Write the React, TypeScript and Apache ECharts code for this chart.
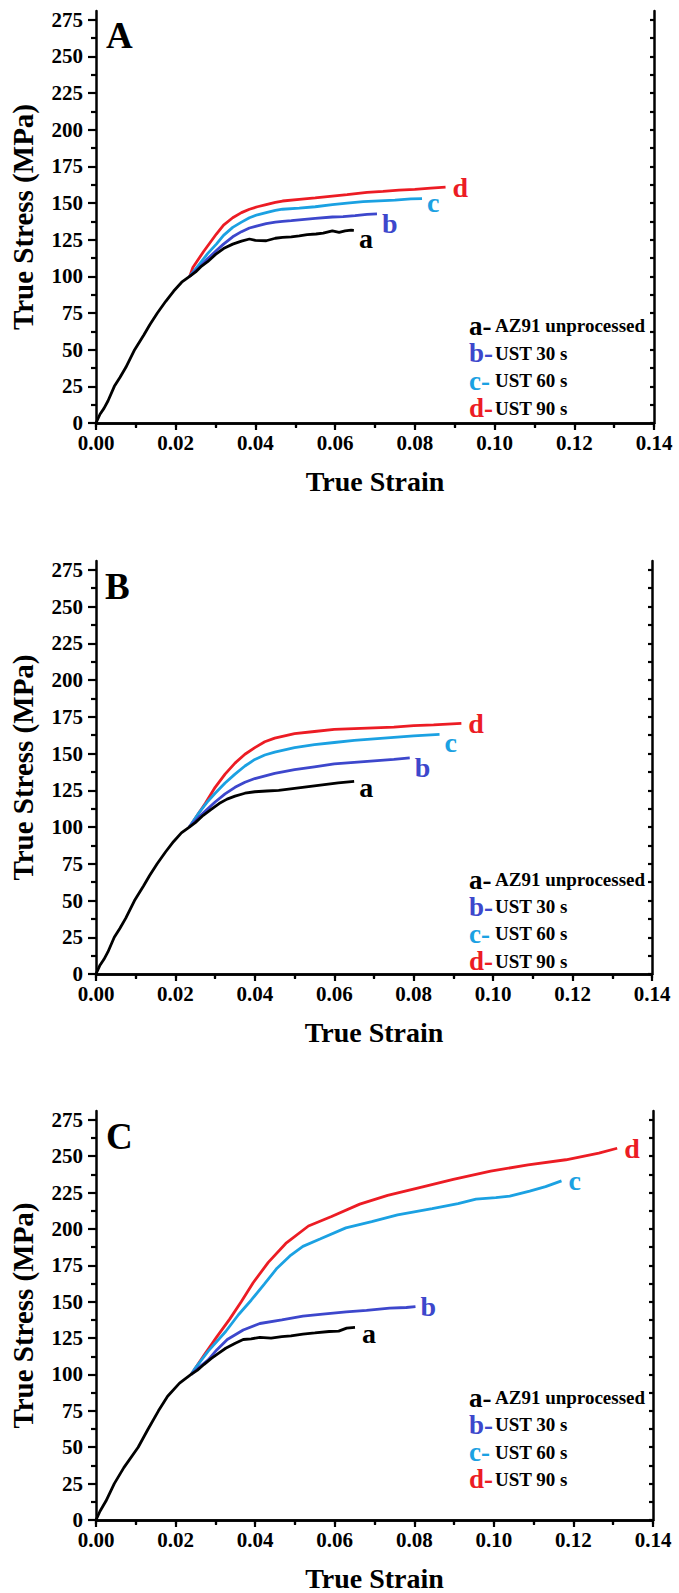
import React, { useEffect, useRef } from "react";
import * as echarts from "echarts";

const F = "'Liberation Serif', 'Times New Roman', serif";
const COLORS = ["#000000", "#3d47cc", "#1ba1e2", "#ec1c24"];
const LETTERS = ["a", "b", "c", "d"];
const NAMES = ["AZ91 unprocessed", "UST 30 s", "UST 60 s", "UST 90 s"];
const PANELS = ["A", "B", "C"];
const Y_MAJOR = [0, 25, 50, 75, 100, 125, 150, 175, 200, 225, 250, 275];
const Y_MINOR = [12.5, 37.5, 62.5, 87.5, 112.5, 137.5, 162.5, 187.5, 212.5, 237.5, 262.5];
const Y_RIGHT = [0, 12.5, 25, 37.5, 50, 62.5, 75, 87.5, 100, 112.5, 125, 137.5, 150, 162.5, 175, 187.5, 200, 212.5, 225, 237.5, 250, 262.5, 275];

// Panel A
const A_a = [[0,0],[0.001,6],[0.002,10],[0.003,15],[0.0046,25],[0.006,31],[0.0075,38],[0.0097,50],[0.012,60],[0.0135,67],[0.0154,75],[0.0175,83],[0.0195,90],[0.0215,96],[0.0235,100],[0.025,103],[0.0265,107],[0.028,110],[0.030,115],[0.032,119],[0.0343,122],[0.0365,124],[0.0385,125.5],[0.040,124.5],[0.0427,124.3],[0.045,126],[0.0468,126.6],[0.049,127],[0.051,127.7],[0.053,128.5],[0.0552,128.9],[0.057,129.5],[0.0593,131],[0.061,130],[0.0625,131],[0.064,131.5],[0.0647,131.4]];
const A_b = [[0.0235,100],[0.026,106.3],[0.028,112],[0.0302,117.6],[0.032,122],[0.0343,127],[0.0365,130.5],[0.0385,133],[0.0405,134.5],[0.0427,136],[0.045,137],[0.0468,137.5],[0.049,138],[0.051,138.5],[0.055,139.5],[0.0593,140.5],[0.062,140.8],[0.065,141.5],[0.068,142.3],[0.0705,142.7]];
const A_c = [[0.0235,100],[0.026,108.6],[0.028,115.5],[0.0302,122],[0.032,128],[0.0343,133.4],[0.0365,137],[0.0385,140],[0.0405,142],[0.0427,143.5],[0.045,145],[0.0468,145.8],[0.051,146.5],[0.055,147.5],[0.0593,149],[0.063,150],[0.067,151],[0.071,151.5],[0.075,152],[0.079,152.8],[0.0818,153]];
const A_d = [[0.0235,100],[0.0243,106],[0.027,117],[0.0302,128.9],[0.032,135],[0.0343,140],[0.0365,143.5],[0.0385,145.8],[0.0405,147.5],[0.0427,149],[0.045,150.5],[0.0468,151.4],[0.051,152.5],[0.055,153.5],[0.0593,154.8],[0.063,155.8],[0.068,157.3],[0.072,158],[0.076,158.8],[0.080,159.3],[0.084,160.2],[0.0877,160.9]];

// Panel B
const B_a = [[0,0],[0.001,6],[0.002,10],[0.003,15],[0.0046,25],[0.006,31],[0.0075,38],[0.0097,50],[0.012,60],[0.0135,67],[0.0154,75],[0.0175,83],[0.0195,90],[0.0215,96],[0.0235,100],[0.025,103],[0.027,108],[0.029,112],[0.031,116],[0.033,119],[0.035,121],[0.0375,123],[0.040,124],[0.043,124.5],[0.046,125],[0.049,126],[0.052,127],[0.055,128],[0.058,129],[0.061,130],[0.063,130.5],[0.065,131]];
const B_b = [[0.0235,100],[0.026,107],[0.028,112],[0.030,117],[0.0325,122.5],[0.035,127],[0.0375,130.5],[0.040,133],[0.045,136.5],[0.050,139],[0.055,141],[0.060,143],[0.065,144],[0.070,145],[0.075,146],[0.079,147]];
const B_c = [[0.0235,100],[0.026,110],[0.028,117],[0.030,123],[0.0325,130],[0.035,136],[0.0375,141.5],[0.040,146],[0.0425,149],[0.045,151],[0.050,154],[0.055,156],[0.060,157.5],[0.065,159],[0.070,160],[0.075,161],[0.080,162],[0.0865,163]];
const B_d = [[0.0235,100],[0.025,106],[0.0275,116],[0.030,127],[0.0325,136],[0.035,143.5],[0.0375,149.5],[0.040,154],[0.0425,158],[0.045,160.5],[0.050,163.5],[0.055,165],[0.060,166.5],[0.065,167],[0.070,167.5],[0.075,168],[0.080,169],[0.085,169.5],[0.092,170.5]];

// Panel C
const C_a = [[0,0],[0.001,6],[0.0025,13],[0.0046,25],[0.007,36],[0.0106,50],[0.013,62],[0.0157,75],[0.018,85],[0.021,94],[0.0239,100],[0.0255,103],[0.0271,106.8],[0.029,111],[0.0305,114],[0.0326,118],[0.035,121.5],[0.037,124],[0.039,124.5],[0.0412,125.5],[0.044,125],[0.0467,126],[0.049,126.5],[0.052,127.7],[0.055,128.5],[0.0586,129.5],[0.061,129.8],[0.063,131.8],[0.0651,132.3]];
const C_b = [[0.0239,100],[0.026,105],[0.0282,110],[0.0304,117],[0.033,124],[0.037,130.5],[0.0412,135],[0.0467,137.5],[0.052,140],[0.057,141.5],[0.0629,143],[0.068,144],[0.0738,145.5],[0.078,146],[0.0803,146.6]];
const C_c = [[0.0239,100],[0.025,104.5],[0.0282,116],[0.0326,129.5],[0.0358,141],[0.039,151],[0.0423,162],[0.0455,173],[0.049,182],[0.052,188],[0.0563,193],[0.0628,200.7],[0.0693,205],[0.0758,209.6],[0.0845,214],[0.091,217.4],[0.0955,220.5],[0.1005,221.5],[0.104,222.5],[0.109,226],[0.113,229],[0.117,233]];
const C_d = [[0.0239,100],[0.0271,113],[0.0304,126],[0.0336,138],[0.0365,150],[0.0395,163],[0.0433,177],[0.0477,190],[0.0534,202],[0.0592,208.5],[0.0663,217],[0.0733,223],[0.0816,228.6],[0.0898,234],[0.0992,239.7],[0.1086,244],[0.1181,247.5],[0.1264,252],[0.131,255.4]];

const DATA = [[A_a, A_b, A_c, A_d], [B_a, B_b, B_c, B_d], [C_a, C_b, C_c, C_d]];
const END_OFFSETS = [
  [[2, 8], [2, 10], [2, 4], [4, 0]],
  [[2, 6], [2, 10], [2, 8], [4, 0]],
  [[4, 6], [2, 0], [4, 0], [4, 0]],
];

const GRIDS = [
  { left: 95, top: 11, width: 559, height: 412, legendTop: 307, gap: 0.5, titleTop: 12 },
  { left: 94, top: 561, width: 558, height: 413, legendTop: 861, gap: 0.2, titleTop: 563 },
  { left: 95, top: 1111, width: 558, height: 412, legendTop: 1379, gap: 0.3, titleTop: 1113 },
];
const YMAX = 281;

export default function App() {
  const ref = useRef<HTMLDivElement>(null);
  useEffect(() => {
    if (!ref.current) return;
    const chart = echarts.init(ref.current, null, { renderer: "svg" });
    const line = { show: true, lineStyle: { color: "#000", width: 2.5 } };
    const tickStyle = { color: "#000", width: 2.2 };
    const grid: any[] = [];
    const xAxis: any[] = [];
    const yAxis: any[] = [];
    const series: any[] = [];
    const legend: any[] = [];
    const title: any[] = [];
    GRIDS.forEach((g, i) => {
      grid.push({ left: g.left, top: g.top, width: g.width, height: g.height, containLabel: false });
      xAxis.push({
        type: "value", gridIndex: i, position: "bottom", min: 0, max: 0.14, interval: 0.02,
        axisLine: line,
        axisTick: { show: true, length: 7, lineStyle: tickStyle },
        minorTick: { show: true, splitNumber: 2, length: 5, lineStyle: tickStyle },
        axisLabel: { fontSize: 21, fontWeight: "bold", color: "#000", fontFamily: F, margin: 9, formatter: (v: number) => v.toFixed(2) },
        splitLine: { show: false },
        name: "True Strain", nameLocation: "middle", nameGap: 44,
        nameTextStyle: { fontSize: 28, fontWeight: "bold", color: "#000", fontFamily: F },
      });
      xAxis.push({
        type: "value", gridIndex: i, position: "top", min: 0, max: 0.14, interval: 0.01,
        axisLine: line,
        axisTick: { show: true, inside: true, length: 4, lineStyle: tickStyle },
        axisLabel: { show: false }, splitLine: { show: false },
      });
      yAxis.push({
        type: "value", gridIndex: i, position: "left", min: 0, max: YMAX,
        axisLine: line,
        axisTick: { show: true, length: 8, customValues: Y_MAJOR, lineStyle: tickStyle },
        axisLabel: { customValues: Y_MAJOR, fontSize: 21, fontWeight: "bold", color: "#000", fontFamily: F, margin: 13 },
        splitLine: { show: false },
        name: "True Stress (MPa)", nameLocation: "middle", nameGap: 59,
        nameTextStyle: { fontSize: 29, fontWeight: "bold", color: "#000", fontFamily: F },
      });
      yAxis.push({
        type: "value", gridIndex: i, position: "left", min: 0, max: YMAX,
        axisLine: { show: false },
        axisTick: { show: true, length: 5, customValues: Y_MINOR, lineStyle: tickStyle },
        axisLabel: { show: false }, splitLine: { show: false },
      });
      yAxis.push({
        type: "value", gridIndex: i, position: "right", min: 0, max: YMAX,
        axisLine: line,
        axisTick: { show: true, inside: true, length: 4, customValues: Y_RIGHT, lineStyle: tickStyle },
        axisLabel: { show: false }, splitLine: { show: false },
      });
      DATA[i].forEach((d, k) => {
        series.push({
          type: "line", name: NAMES[k], xAxisIndex: i * 2, yAxisIndex: i * 3,
          data: d, showSymbol: false, symbol: "none", z: 10 - k,
          lineStyle: { color: COLORS[k], width: 2.8 }, itemStyle: { color: COLORS[k] },
          endLabel: {
            show: true, formatter: LETTERS[k], color: COLORS[k], fontSize: 28, fontWeight: "bold",
            fontFamily: F, distance: 3, offset: END_OFFSETS[i][k],
          },
        });
      });
      legend.push({
        data: NAMES, orient: "vertical", left: 459, top: g.legendTop, icon: "none",
        itemWidth: 0, itemHeight: 0, itemGap: g.gap, selectedMode: false,
        formatter: (name: string) => {
          const k = NAMES.indexOf(name);
          return `{l${k}|${LETTERS[k]}-}{t|${name}}`;
        },
        textStyle: {
          rich: {
            l0: { color: COLORS[0], fontSize: 27, fontWeight: "bold", fontFamily: F, lineHeight: 24, width: 26 },
            l1: { color: COLORS[1], fontSize: 27, fontWeight: "bold", fontFamily: F, lineHeight: 24, width: 26 },
            l2: { color: COLORS[2], fontSize: 27, fontWeight: "bold", fontFamily: F, lineHeight: 24, width: 26 },
            l3: { color: COLORS[3], fontSize: 27, fontWeight: "bold", fontFamily: F, lineHeight: 24, width: 26 },
            t: { color: "#000", fontSize: 19, fontWeight: "bold", fontFamily: F, lineHeight: 24 },
          },
        },
      });
      title.push({
        text: PANELS[i], left: g.left + 6, top: g.titleTop,
        textStyle: { fontSize: 37, fontWeight: "bold", color: "#000", fontFamily: F },
      });
    });
    chart.setOption({ animation: false, backgroundColor: "#fff", grid, xAxis, yAxis, series, legend, title });
    return () => chart.dispose();
  }, []);
  return <div ref={ref} style={{ position: "absolute", left: 0, top: 0, width: 679, height: 1593 }} />;
}
